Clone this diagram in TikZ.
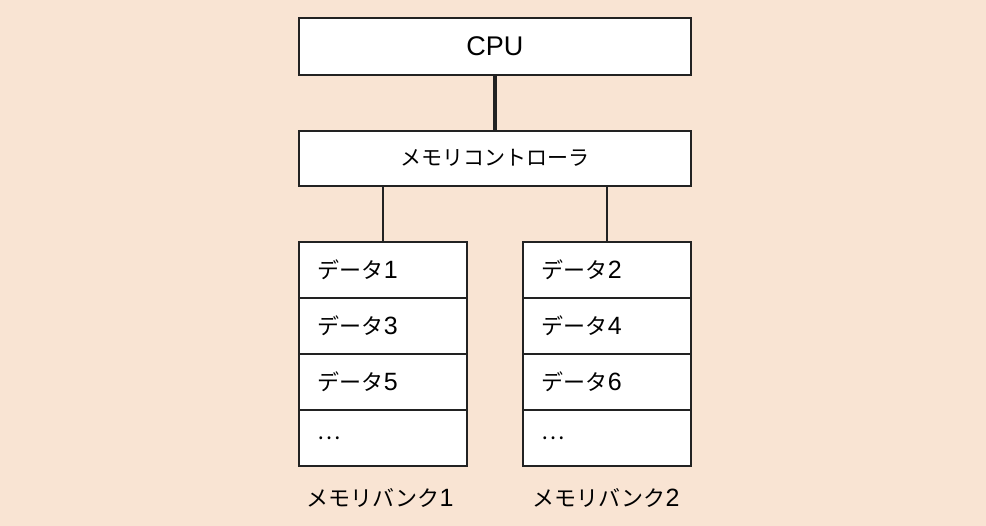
\documentclass[tikz,border=0pt]{standalone}
\usepackage{fontspec}
\setmainfont{Liberation Sans}
\newfontfamily\jp{Noto Sans CJK JP}
\definecolor{bgc}{HTML}{F9E4D3}
\definecolor{edge}{HTML}{222222}
\newcommand\dg[1]{{\fontsize{25}{26}\selectfont #1}}
\begin{document}
\begin{tikzpicture}[x=1pt,y=-1pt,
  box/.style={draw=edge,line width=1.6pt,fill=white,inner sep=0pt,anchor=north west},
  rowbox/.style={box,minimum width=168pt,minimum height=56pt,text width=130pt,inner xsep=19pt,align=left,font=\fontsize{22}{24}\selectfont},
  lbl/.style={font=\fontsize{22}{24}\selectfont,inner sep=0pt},
  thin/.style={draw=edge,line width=1.4pt},
  thick/.style={draw=edge,line width=4.5pt}]
\fill[bgc] (0,0) rectangle (986,526);
\useasboundingbox (0,0) rectangle (986,526);
\node[box,minimum width=392pt,minimum height=57pt,font=\fontsize{27}{28}\selectfont] (cpu) at (298,17) {CPU};
\node[box,minimum width=392pt,minimum height=55pt,font=\fontsize{21}{24}\selectfont] (ctrl) at (298,130) {\jp メモリコントローラ};
\node[rowbox] (a1) at (298,241) {{\jp データ}\dg{1}};
\node[rowbox] (a2) at (298,297) {{\jp データ}\dg{3}};
\node[rowbox] (a3) at (298,353) {{\jp データ}\dg{5}};
\node[rowbox] (a4) at (298,409) {{\jp …}};
\node[rowbox] (b1) at (522,241) {{\jp データ}\dg{2}};
\node[rowbox] (b2) at (522,297) {{\jp データ}\dg{4}};
\node[rowbox] (b3) at (522,353) {{\jp データ}\dg{6}};
\node[rowbox] (b4) at (522,409) {{\jp …}};
\node[lbl] (la) at (380,498) {{\jp メモリバンク}\dg{1}};
\node[lbl] (lb) at (606,498) {{\jp メモリバンク}\dg{2}};
\draw[thick] (cpu.south) -- (ctrl.north);
\draw[thin] (ctrl.south -| a1.north) -- (a1.north);
\draw[thin] (ctrl.south -| b1.north) -- (b1.north);
\end{tikzpicture}
\end{document}
